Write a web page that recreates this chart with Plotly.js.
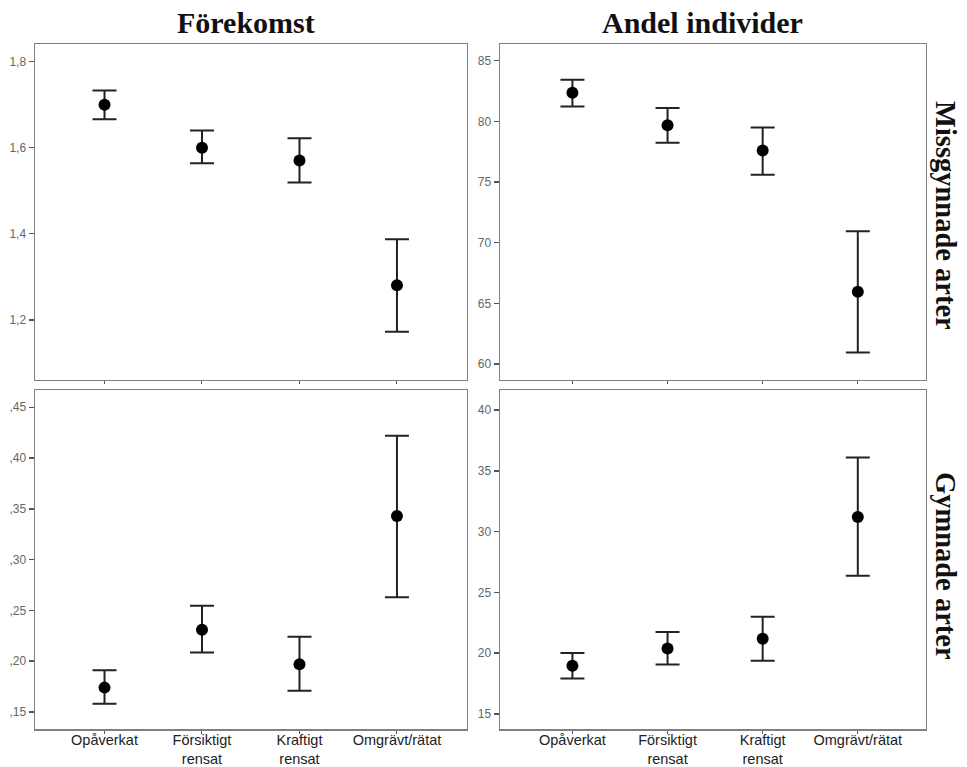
<!DOCTYPE html>
<html>
<head>
<meta charset="utf-8">
<script src="https://cdn.plot.ly/plotly-3.0.1.min.js"></script>
<style>html,body{margin:0;padding:0;background:#fff;}#chart{width:967px;height:767px;}</style>
</head>
<body>
<div id="chart"></div>
<script>
// Categories
const categories = ["Opåverkat", "Försiktigt<br>rensat", "Kraftigt<br>rensat", "Omgrävt/rätat"];

// Förekomst – Missgynnade arter
const forekomstMissMean  = [1.700, 1.600, 1.570, 1.280];
const forekomstMissLower = [1.666, 1.564, 1.519, 1.172];
const forekomstMissUpper = [1.733, 1.640, 1.622, 1.387];

// Andel individer – Missgynnade arter
const andelMissMean  = [82.35, 79.67, 77.60, 65.95];
const andelMissLower = [81.22, 78.24, 75.60, 60.95];
const andelMissUpper = [83.42, 81.09, 79.50, 70.95];

// Förekomst – Gynnade arter
const forekomstGynMean  = [0.174, 0.231, 0.197, 0.343];
const forekomstGynLower = [0.158, 0.2085, 0.171, 0.263];
const forekomstGynUpper = [0.191, 0.2546, 0.224, 0.422];

// Andel individer – Gynnade arter
const andelGynMean  = [18.97, 20.39, 21.20, 31.20];
const andelGynLower = [17.92, 19.07, 19.38, 26.37];
const andelGynUpper = [20.03, 21.75, 23.00, 36.10];

// Tick labels
const tickForekomstMissVals = [1.2, 1.4, 1.6, 1.8];
const tickForekomstMissText = ["1,2", "1,4", "1,6", "1,8"];
const tickAndelMissVals = [60, 65, 70, 75, 80, 85];
const tickForekomstGynVals = [0.15, 0.20, 0.25, 0.30, 0.35, 0.40, 0.45];
const tickForekomstGynText = [",15", ",20", ",25", ",30", ",35", ",40", ",45"];
const tickAndelGynVals = [15, 20, 25, 30, 35, 40];

const colTitles = ["Förekomst", "Andel individer"];
const rowTitles = ["Missgynnade arter", "Gymnade arter"];

function trace(mean, lower, upper, xa, ya) {
  return {
    type: "scatter", mode: "markers",
    x: categories.map((c, i) => i), y: mean,
    xaxis: xa, yaxis: ya,
    marker: {color: "#000", size: 12},
    error_y: {
      type: "data", symmetric: false,
      array: upper.map((u, i) => u - mean[i]),
      arrayminus: lower.map((l, i) => mean[i] - l),
      color: "#222", thickness: 2, width: 12
    },
    hoverinfo: "skip", showlegend: false
  };
}

const data = [
  trace(forekomstMissMean, forekomstMissLower, forekomstMissUpper, "x", "y"),
  trace(andelMissMean, andelMissLower, andelMissUpper, "x2", "y2"),
  trace(forekomstGynMean, forekomstGynLower, forekomstGynUpper, "x3", "y3"),
  trace(andelGynMean, andelGynLower, andelGynUpper, "x4", "y4")
];

const lineCol = "#808080";
function xax(domain, anchor, range, showLabels) {
  return {
    domain: domain, anchor: anchor, range: range,
    tickmode: "array", tickvals: categories.map((c, i) => i),
    ticktext: showLabels ? categories : categories.map(() => ""),
    showline: true, mirror: true, linecolor: lineCol, linewidth: 1.5,
    ticks: "outside", ticklen: 3, tickcolor: "#555", tickwidth: 1,
    ticklabelstandoff: -6,
    showgrid: false, zeroline: false,
    tickfont: {family: "Liberation Sans, Arial, sans-serif", size: 14.5, color: "#222"}
  };
}
function yax(domain, anchor, range, vals, text) {
  return {
    domain: domain, anchor: anchor, range: range,
    tickmode: "array", tickvals: vals, ticktext: text || vals.map(String),
    showline: true, mirror: true, linecolor: lineCol, linewidth: 1.5,
    ticks: "outside", ticklen: 5, tickcolor: "#555", tickwidth: 1.5,
    showgrid: false, zeroline: false,
    tickfont: {family: "Liberation Sans, Arial, sans-serif", size: 12, color: "#666"}
  };
}

const xL = [0.0362, 0.4829], xR = [0.5171, 0.9576];
const yT = [0.5046, 0.9426], yB = [0.0492, 0.4915];

const serif = "Liberation Serif, Times New Roman, serif";
const layout = {
  width: 967, height: 767,
  margin: {l: 0, r: 0, t: 0, b: 0},
  paper_bgcolor: "#fff", plot_bgcolor: "#fff",
  showlegend: false,
  xaxis:  xax(xL, "y",  [-0.713, 3.718], false),
  yaxis:  yax(yT, "x",  [1.060, 1.841], tickForekomstMissVals, tickForekomstMissText),
  xaxis2: xax(xR, "y2", [-0.761, 3.717], false),
  yaxis2: yax(yT, "x2", [58.69, 86.37], tickAndelMissVals),
  xaxis3: xax(xL, "y3", [-0.713, 3.718], true),
  yaxis3: yax(yB, "x3", [0.133, 0.467], tickForekomstGynVals, tickForekomstGynText),
  xaxis4: xax(xR, "y4", [-0.761, 3.717], true),
  yaxis4: yax(yB, "x4", [13.75, 41.64], tickAndelGynVals),
  annotations: [
    {text: "<b>" + colTitles[0] + "</b>", x: 246/967, y: 1 - 22/767, xref: "paper", yref: "paper",
     xanchor: "center", yanchor: "middle", showarrow: false,
     font: {family: serif, size: 30, color: "#111"}},
    {text: "<b>" + colTitles[1] + "</b>", x: 702/967, y: 1 - 22/767, xref: "paper", yref: "paper",
     xanchor: "center", yanchor: "middle", showarrow: false,
     font: {family: serif, size: 30, color: "#111"}},
    {text: "<b>" + rowTitles[0] + "</b>", x: 946/967, y: 1 - 215/767, xref: "paper", yref: "paper",
     xanchor: "center", yanchor: "middle", showarrow: false, textangle: 90,
     font: {family: serif, size: 28.5, color: "#111"}},
    {text: "<b>" + rowTitles[1] + "</b>", x: 946/967, y: 1 - 566/767, xref: "paper", yref: "paper",
     xanchor: "center", yanchor: "middle", showarrow: false, textangle: 90,
     font: {family: serif, size: 28.5, color: "#111"}}
  ]
};

Plotly.newPlot("chart", data, layout, {staticPlot: true, displayModeBar: false});
</script>
</body>
</html>
